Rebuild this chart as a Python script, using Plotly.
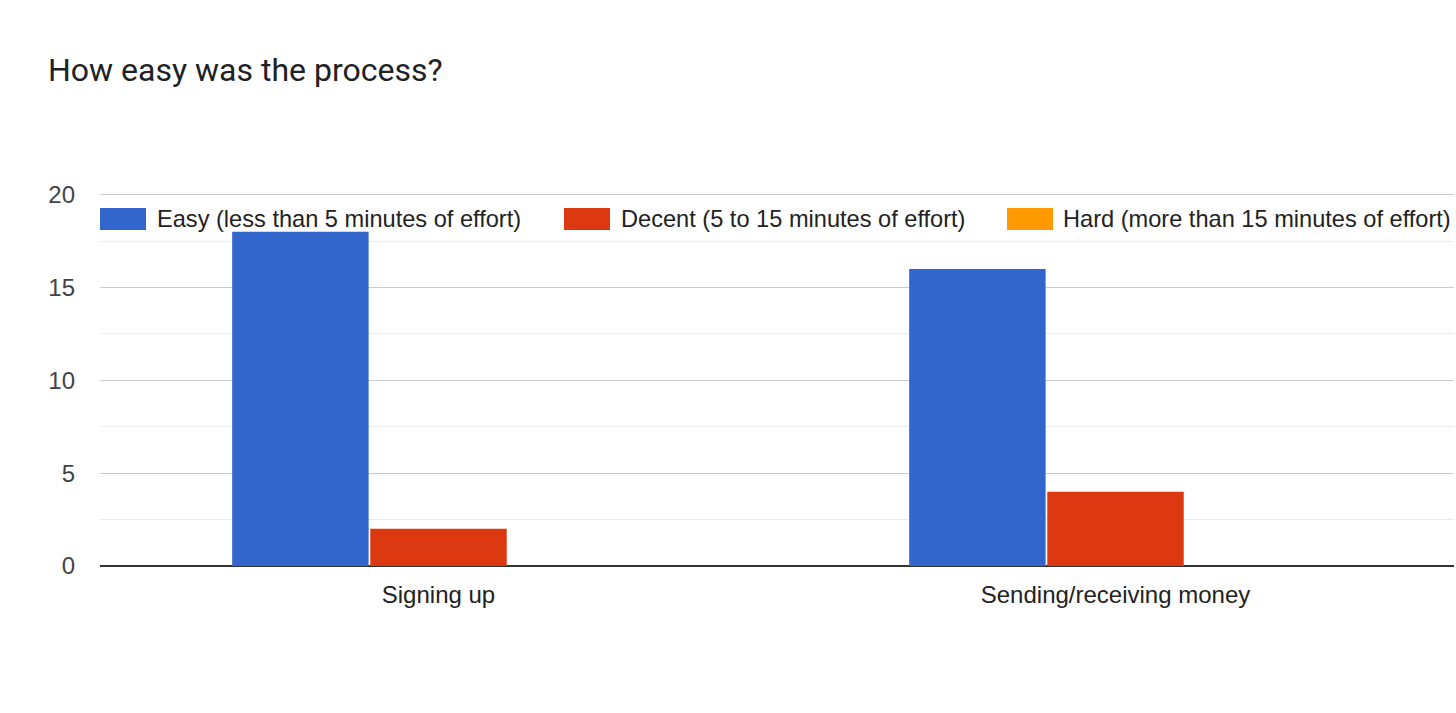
import plotly.graph_objects as go

categories = ["Signing up", "Sending/receiving money"]
series_names = [
    "Easy (less than 5 minutes of effort)",
    "Decent (5 to 15 minutes of effort)",
    "Hard (more than 15 minutes of effort)",
]
easy = [18, 16]
decent = [2, 4]
hard = [0, 0]
colors = ["#3366cc", "#dc3912", "#ff9900"]
y_ticks = [0, 5, 10, 15, 20]

W, H = 1456, 713
L, R, T, B = 100, 2, 191, 147
pw = W - L - R
ph = H - T - B

fig = go.Figure()
for name, vals, col in zip(series_names, [easy, decent, hard], colors):
    fig.add_trace(go.Bar(
        x=categories, y=vals, name=name,
        marker=dict(color=col, line=dict(color=col, width=0)),
        hoverinfo="x+y+name",
    ))

font_main = "Arial, 'Liberation Sans', sans-serif"

fig.update_layout(
    width=W, height=H,
    margin=dict(l=L, r=R, t=T, b=B, autoexpand=False),
    paper_bgcolor="white", plot_bgcolor="white",
    barmode="group", bargap=0.388, bargroupgap=0.012,
    showlegend=False,
    title=dict(
        text="How easy was the process?",
        font=dict(family="Roboto, sans-serif", size=32, color="#202124"),
        x=48 / W, xanchor="left", xref="container",
        y=1 - 70 / H, yanchor="middle", yref="container",
    ),
    xaxis=dict(
        showgrid=False, showline=False, ticks="",
        tickfont=dict(family=font_main, size=24, color="#222222"),
        ticklabelstandoff=12,
    ),
    yaxis=dict(
        range=[0, 20.2], tickvals=y_ticks,
        tickfont=dict(family=font_main, size=24, color="#444444"),
        showgrid=True, gridcolor="#cccccc", gridwidth=1,
        minor=dict(dtick=2.5, showgrid=True, gridcolor="#ebebeb", gridwidth=1),
        zeroline=True, zerolinecolor="#333333", zerolinewidth=2,
        showline=False, ticks="", ticklabelstandoff=24,
    ),
)

# Legend drawn with shapes + annotations (Google Charts style)
legend_items = [
    (100, 146, 155),
    (564, 610, 619),
    (1007, 1053, 1061),
]
def px_x(p):
    return (p - L) / pw
def px_y(p):
    return 1 - (p - T) / ph

for (x0, x1, tx), name, col in zip(legend_items, series_names, colors):
    fig.add_shape(type="rect", xref="paper", yref="paper",
                  x0=px_x(x0), x1=px_x(x1), y0=px_y(230), y1=px_y(208),
                  fillcolor=col, line=dict(width=0), layer="above")
    fig.add_annotation(xref="paper", yref="paper", x=px_x(tx), y=px_y(219),
                       xanchor="left", yanchor="middle", showarrow=False,
                       text=name, font=dict(family=font_main, size=23.6, color="#222222"),
                       bgcolor="rgba(0,0,0,0)")

fig.write_html("out.html")
